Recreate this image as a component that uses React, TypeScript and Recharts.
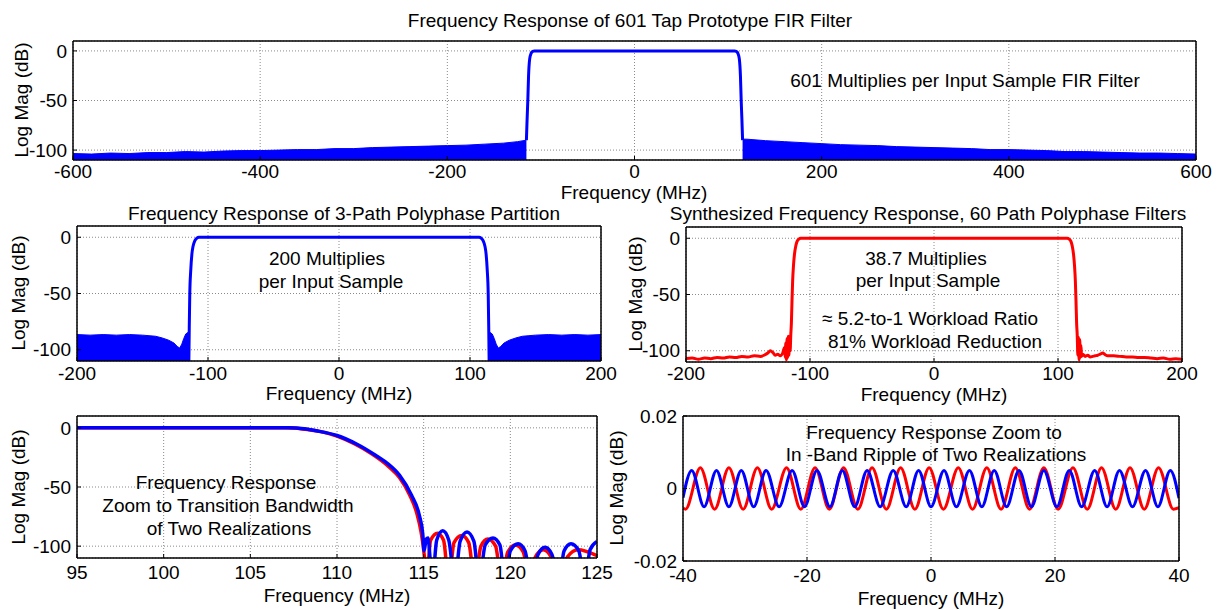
import React from 'react';
import { ComposedChart, Line, Area, XAxis, YAxis, CartesianGrid } from 'recharts';

type Pt = [number, number];

const FONT = '"Liberation Sans", Arial, Helvetica, sans-serif';
const BLUE = '#0000ff';
const RED = '#ff0000';

// shared tick labels
const dbTicks = [-100, -50, 0];
const fullTicks = [-600, -400, -200, 0, 200, 400, 600];
const bandTicks = [-200, -100, 0, 100, 200];
const edgeTicks = [95, 100, 105, 110, 115, 120, 125];
const rippleTicks = [-40, -20, 0, 20, 40];
const rippleDbTicks = [-0.02, 0, 0.02];

// 601 tap prototype (MHz, dB)
const protoPass: Pt[] = [
  [-115.5, -90], [-114.8, -70], [-114, -50], [-113.2, -25], [-112, -8], [-110.5, -2.5], [-109, -0.6], [-107, 0],
  [0, 0], [107, 0], [109, -0.6], [110.5, -2.5], [112, -8], [113.2, -25], [114, -50], [114.8, -70], [115.5, -90],
];
const protoStopLo: Pt[] = [
  [-600, -103.5], [-580, -104], [-560, -103], [-540, -103.5], [-520, -102.5], [-500, -102.5], [-480, -101.5],
  [-460, -102], [-440, -101], [-420, -100.5], [-400, -100.5], [-380, -100], [-360, -99.5], [-340, -99.5],
  [-320, -98.5], [-300, -98.5], [-280, -97.5], [-260, -97], [-240, -96.5], [-220, -96], [-200, -95.5],
  [-180, -95], [-160, -94], [-140, -93], [-125, -91.5], [-115.5, -90],
];
const protoStopHi: Pt[] = [
  [115.5, -89], [120, -89], [140, -90.5], [160, -91.5], [180, -92.5], [200, -93.5], [220, -94.5], [240, -95],
  [260, -95.5], [280, -96.5], [300, -97], [320, -97.5], [340, -98], [360, -98.5], [380, -99.5], [400, -99.5],
  [420, -100], [440, -100.5], [460, -101.5], [480, -101.5], [500, -102], [520, -102.5], [540, -103],
  [560, -103], [580, -103.5], [600, -104],
];

// 3-path polyphase partition
const path3Pass: Pt[] = [
  [-114.6, -110], [-114.3, -80], [-113.9, -50], [-113.2, -30], [-112.3, -15], [-111.4, -8], [-110, -3], [-108.5, -0.8],
  [-107, 0], [107, 0], [108.5, -0.8], [110, -3], [111.4, -8], [112.3, -15], [113.2, -30], [113.9, -50], [114.3, -80],
  [114.6, -110],
];
const path3StopLo: Pt[] = [
  [-200, -86.5], [-190, -87], [-180, -86.5], [-170, -87], [-160, -86.5], [-150, -87], [-145, -87.5], [-140, -88],
  [-135, -89.5], [-130, -91.5], [-126, -94], [-123.5, -97], [-121.6, -98.5], [-120, -95], [-118.5, -90],
  [-117, -86], [-114.6, -84],
];
const path3StopHi: Pt[] = [
  [114.6, -84], [117, -86], [118.5, -90], [120, -95], [121.6, -98.5], [123.5, -97], [126, -94], [130, -91.5],
  [135, -89.5], [140, -88], [145, -87.5], [150, -87], [160, -86.5], [170, -87], [180, -86.5], [190, -87], [200, -86.5],
];

// 60-path synthesized response
const path60: Pt[] = [
  [-200, -107], [-195, -106.5], [-190, -107.5], [-185, -106.5], [-180, -107], [-175, -106], [-170, -106.5],
  [-165, -105.5], [-160, -106], [-155, -105], [-150, -105.5], [-145, -104.5], [-140, -105], [-137, -104],
  [-134, -102], [-132, -100], [-130, -101.5], [-128, -104], [-126, -103], [-124, -104.5], [-122, -102],
  [-120.5, -97], [-120, -106], [-119.5, -93], [-119, -108], [-118.5, -89], [-118, -106], [-117.5, -87],
  [-117, -104], [-116.5, -88], [-116, -100], [-115.5, -86], [-115, -75], [-114.5, -55], [-114, -38],
  [-113.3, -24], [-112.5, -14], [-111.5, -7], [-110.5, -3], [-109, -0.8], [-107.5, 0],
  [107.5, 0], [109, -0.8], [110.5, -3], [111.5, -7], [112.5, -14], [113.3, -24], [114, -38], [114.5, -55],
  [115, -75], [115.5, -86], [116, -104], [116.5, -88], [117, -108], [117.5, -90], [118, -106], [118.5, -95],
  [119, -105], [120, -103], [122, -105], [124, -104], [126, -105.5], [128, -105], [130, -104.5], [132, -104],
  [134, -103], [136, -102], [138, -103.5], [140, -104.5], [145, -104.5], [150, -105], [155, -105.5],
  [160, -105.5], [165, -106], [170, -106], [175, -106.5], [180, -107], [185, -106.5], [190, -107.5],
  [195, -107], [200, -107.5],
];

// transition band zoom, two realizations
const edgeRed: Pt[] = [
  [95, 0], [107, 0], [108, -0.9], [109, -3], [110, -7], [111, -13.5], [112, -22], [113, -33], [113.6, -42],
  [114.2, -57], [114.6, -72], [114.85, -88], [115.05, -110], [115.15, -130],
  [115.4, -95], [115.8, -89], [116.15, -95], [116.45, -130],
  [116.75, -97], [117.2, -91], [117.6, -97], [117.95, -130],
  [118.3, -100], [118.7, -94], [119.15, -100], [119.5, -130],
  [119.85, -105], [120.3, -99], [120.75, -105], [121.1, -130],
  [121.45, -109], [121.9, -103], [122.35, -109], [122.75, -130],
  [123.3, -109], [123.9, -103], [125, -108],
];
const edgeBlue: Pt[] = [
  [95, 0], [107.2, 0], [108.1, -0.8], [108.8, -2.5], [110, -6.5], [111.1, -13.5], [112.2, -23], [112.9, -30],
  [113.6, -40], [114.3, -57], [114.75, -74], [114.95, -90], [115.02, -104], [115.15, -94], [115.25, -93],
  [115.38, -112], [115.5, -130],
  [115.75, -95], [116.1, -87], [116.45, -95], [116.8, -130],
  [117.1, -96], [117.5, -88], [117.9, -96], [118.2, -130],
  [118.55, -99], [119, -93], [119.4, -99], [119.7, -130],
  [120, -104], [120.45, -98], [120.85, -104], [121.2, -130],
  [121.6, -107], [122, -101], [122.4, -107], [122.8, -130],
  [123.1, -104], [123.5, -98], [123.95, -104], [124.3, -130],
  [124.6, -103], [125, -96],
];

// in-band ripple, two realizations (extrema)
const rippleRed: Pt[] = [
  [-40, -0.0054], [-39.6, -0.0057], [-37.2, 0.0057], [-34.9, -0.0057], [-32.6, 0.0057], [-30.3, -0.0057],
  [-28, 0.0057], [-25.7, -0.0057], [-23.3, 0.0057], [-21, -0.0057], [-18.7, 0.0057], [-16.4, -0.0057],
  [-14.1, 0.0057], [-11.8, -0.0057], [-9.5, 0.0057], [-7.2, -0.0057], [-4.9, 0.0057], [-2.6, -0.0057],
  [-0.3, 0.0057], [2, -0.0057], [4.4, 0.0057], [6.7, -0.0057], [9, 0.0057], [11.3, -0.0057], [13.6, 0.0057],
  [15.9, -0.0057], [18.2, 0.0057], [20.5, -0.0057], [22.9, 0.0057], [25.2, -0.0057], [27.5, 0.0057],
  [29.8, -0.0057], [32.1, 0.0057], [34.4, -0.0057], [36.7, 0.0057], [39.1, -0.0057], [40, -0.0053],
];
const rippleBlue: Pt[] = [
  [-40, -0.0025], [-38.6, 0.005], [-36.6, -0.005], [-34.6, 0.005], [-32.6, -0.005], [-30.6, 0.005],
  [-28.6, -0.005], [-26.6, 0.005], [-24.5, -0.005], [-22.4, 0.005], [-20.4, -0.005], [-18.4, 0.005],
  [-16.3, -0.005], [-14.3, 0.005], [-12.3, -0.005], [-10.3, 0.005], [-8.2, -0.005], [-6.1, 0.005],
  [-4, -0.005], [-2, 0.005], [0, -0.005], [2.1, 0.005], [4.1, -0.005], [6.2, 0.005], [8.2, -0.005],
  [10.2, 0.005], [12.2, -0.005], [14.2, 0.005], [16.2, -0.005], [18.2, 0.005], [20.3, -0.005], [22.3, 0.005],
  [24.3, -0.005], [26.4, 0.005], [28.4, -0.005], [30.4, 0.005], [32.5, -0.005], [34.6, 0.005],
  [36.6, -0.005], [38.6, 0.005], [40, -0.0027],
];

// merge named series into one table keyed by frequency
function table(series: Record<string, Pt[]>) {
  const rows: Record<string, number>[] = [];
  for (const [key, pts] of Object.entries(series)) {
    for (const [f, v] of pts) rows.push({ f, [key]: v });
  }
  return rows.sort((a, b) => a.f - b.f);
}

const YW = 70;
const MT = 14;
const MR = 32;
const XH = 36;

const tickFont = { fill: '#000', fontSize: 19, fontFamily: FONT };

interface PanelProps {
  left: number;
  top: number;
  right: number;
  bottom: number;
  xDomain: [number, number];
  xTicks: number[];
  yDomain: [number, number];
  yTicks: number[];
  gap: number;
  rows: Record<string, number>[];
  children: React.ReactNode;
}

const Panel = (p: PanelProps) => {
  const w = YW + (p.right - p.left) + MR;
  const h = MT + (p.bottom - p.top) + XH;
  const frame = { stroke: '#000', strokeWidth: 1.5 };
  return (
    <div style={{ position: 'absolute', left: p.left - YW, top: p.top - MT }}>
      <ComposedChart
        width={w}
        height={h}
        data={p.rows}
        margin={{ top: MT - 1, right: MR - 1, left: 0, bottom: 0 }}
        style={{ overflow: 'visible' }}
      >
        <CartesianGrid xAxisId="b" yAxisId="l" stroke="#8a8a8a" strokeDasharray="1 2" />
        <XAxis xAxisId="b" dataKey="f" type="number" domain={p.xDomain} ticks={p.xTicks} allowDataOverflow
          interval={0} height={XH} stroke="#000" tickSize={-4} tickMargin={p.gap + 4}
          axisLine={frame} tickLine={{ stroke: '#000' }} tick={tickFont} />
        <XAxis xAxisId="t" orientation="top" dataKey="f" type="number" domain={p.xDomain} ticks={p.xTicks}
          allowDataOverflow interval={0} height={1} stroke="#000" tickSize={-4}
          axisLine={frame} tickLine={{ stroke: '#000' }} tick={false} />
        <YAxis yAxisId="l" type="number" domain={p.yDomain} ticks={p.yTicks} allowDataOverflow interval={0}
          width={YW} stroke="#000" tickSize={-4} tickMargin={10}
          axisLine={frame} tickLine={{ stroke: '#000' }} tick={tickFont} />
        <YAxis yAxisId="r" orientation="right" type="number" domain={p.yDomain} ticks={p.yTicks} allowDataOverflow
          interval={0} width={1} stroke="#000" tickSize={-4}
          axisLine={frame} tickLine={{ stroke: '#000' }} tick={false} />
        {p.children}
      </ComposedChart>
    </div>
  );
};

const Txt = ({ x, y, rotate, children }: { x: number; y: number; rotate?: boolean; children: React.ReactNode }) => (
  <div
    style={{
      position: 'absolute',
      left: x,
      top: y,
      transform: `translate(-50%, -50%)${rotate ? ' rotate(-90deg)' : ''}`,
      whiteSpace: 'nowrap',
      fontSize: 19,
      lineHeight: 1,
      color: '#000',
      zIndex: 2,
    }}
  >
    {children}
  </div>
);

const line = (key: string, color: string, width: number) => (
  <Line xAxisId="b" yAxisId="l" dataKey={key} type="monotone" stroke={color} strokeWidth={width}
    dot={false} connectNulls isAnimationActive={false} />
);

const area = (key: string) => (
  <Area xAxisId="b" yAxisId="l" dataKey={key} type="linear" stroke={BLUE} strokeWidth={1} fill={BLUE}
    fillOpacity={1} baseValue="dataMin" dot={false} connectNulls isAnimationActive={false} />
);

export default function App() {
  const protoRows = table({ pass: protoPass, lo: protoStopLo, hi: protoStopHi });
  const path3Rows = table({ pass: path3Pass, lo: path3StopLo, hi: path3StopHi });
  const path60Rows = table({ red: path60 });
  const edgeRows = table({ red: edgeRed, blue: edgeBlue });
  const rippleRows = table({ red: rippleRed, blue: rippleBlue });

  return (
    <div style={{ position: 'absolute', left: 0, top: 0, width: 1217, height: 610, background: '#fff', fontFamily: FONT }}>
      <Panel left={73} top={41} right={1196} bottom={160} xDomain={[-600, 600]} xTicks={fullTicks}
        yDomain={[-110, 10]} yTicks={dbTicks} gap={5} rows={protoRows}>
        {area('lo')}
        {area('hi')}
        {line('pass', BLUE, 3)}
      </Panel>

      <Panel left={77} top={226} right={601} bottom={361} xDomain={[-200, 200]} xTicks={bandTicks}
        yDomain={[-110, 10]} yTicks={dbTicks} gap={6} rows={path3Rows}>
        {area('lo')}
        {area('hi')}
        {line('pass', BLUE, 3)}
      </Panel>

      <Panel left={686} top={227} right={1182} bottom={362} xDomain={[-200, 200]} xTicks={bandTicks}
        yDomain={[-110, 10]} yTicks={dbTicks} gap={5} rows={path60Rows}>
        {line('red', RED, 3)}
      </Panel>

      <Panel left={77} top={416} right={597} bottom={558} xDomain={[95, 125]} xTicks={edgeTicks}
        yDomain={[-110, 10]} yTicks={dbTicks} gap={8} rows={edgeRows}>
        {line('red', RED, 3.5)}
        {line('blue', BLUE, 3.5)}
      </Panel>

      <Panel left={683} top={416} right={1179} bottom={561} xDomain={[-40, 40]} xTicks={rippleTicks}
        yDomain={[-0.02, 0.02]} yTicks={rippleDbTicks} gap={8} rows={rippleRows}>
        {line('red', RED, 3)}
        {line('blue', BLUE, 3)}
      </Panel>

      {/* titles */}
      <Txt x={630} y={20}>Frequency Response of 601 Tap Prototype FIR Filter</Txt>
      <Txt x={344} y={213}>Frequency Response of 3-Path Polyphase Partition</Txt>
      <Txt x={928} y={213}>Synthesized Frequency Response, 60 Path Polyphase Filters</Txt>

      {/* axis labels */}
      <Txt x={634} y={192}>Frequency (MHz)</Txt>
      <Txt x={339} y={393}>Frequency (MHz)</Txt>
      <Txt x={934} y={394}>Frequency (MHz)</Txt>
      <Txt x={337} y={595}>Frequency (MHz)</Txt>
      <Txt x={931} y={598}>Frequency (MHz)</Txt>
      <Txt x={21} y={100} rotate>Log Mag (dB)</Txt>
      <Txt x={18} y={293} rotate>Log Mag (dB)</Txt>
      <Txt x={635} y={294} rotate>Log Mag (dB)</Txt>
      <Txt x={18} y={487} rotate>Log Mag (dB)</Txt>
      <Txt x={616} y={488} rotate>Log Mag (dB)</Txt>

      {/* annotations */}
      <Txt x={965} y={80}>601 Multiplies per Input Sample FIR Filter</Txt>
      <Txt x={327} y={258}>200 Multiplies</Txt>
      <Txt x={331} y={281}>per Input Sample</Txt>
      <Txt x={926} y={258}>38.7 Multiplies</Txt>
      <Txt x={928} y={280}>per Input Sample</Txt>
      <Txt x={930} y={318}>≈ 5.2-to-1 Workload Ratio</Txt>
      <Txt x={935} y={341}>81% Workload Reduction</Txt>
      <Txt x={226} y={482}>Frequency Response</Txt>
      <Txt x={228} y={505}>Zoom to Transition Bandwidth</Txt>
      <Txt x={229} y={528}>of Two Realizations</Txt>
      <Txt x={934} y={432}>Frequency Response Zoom to</Txt>
      <Txt x={936} y={454}>In -Band Ripple of Two Realizations</Txt>
    </div>
  );
}
